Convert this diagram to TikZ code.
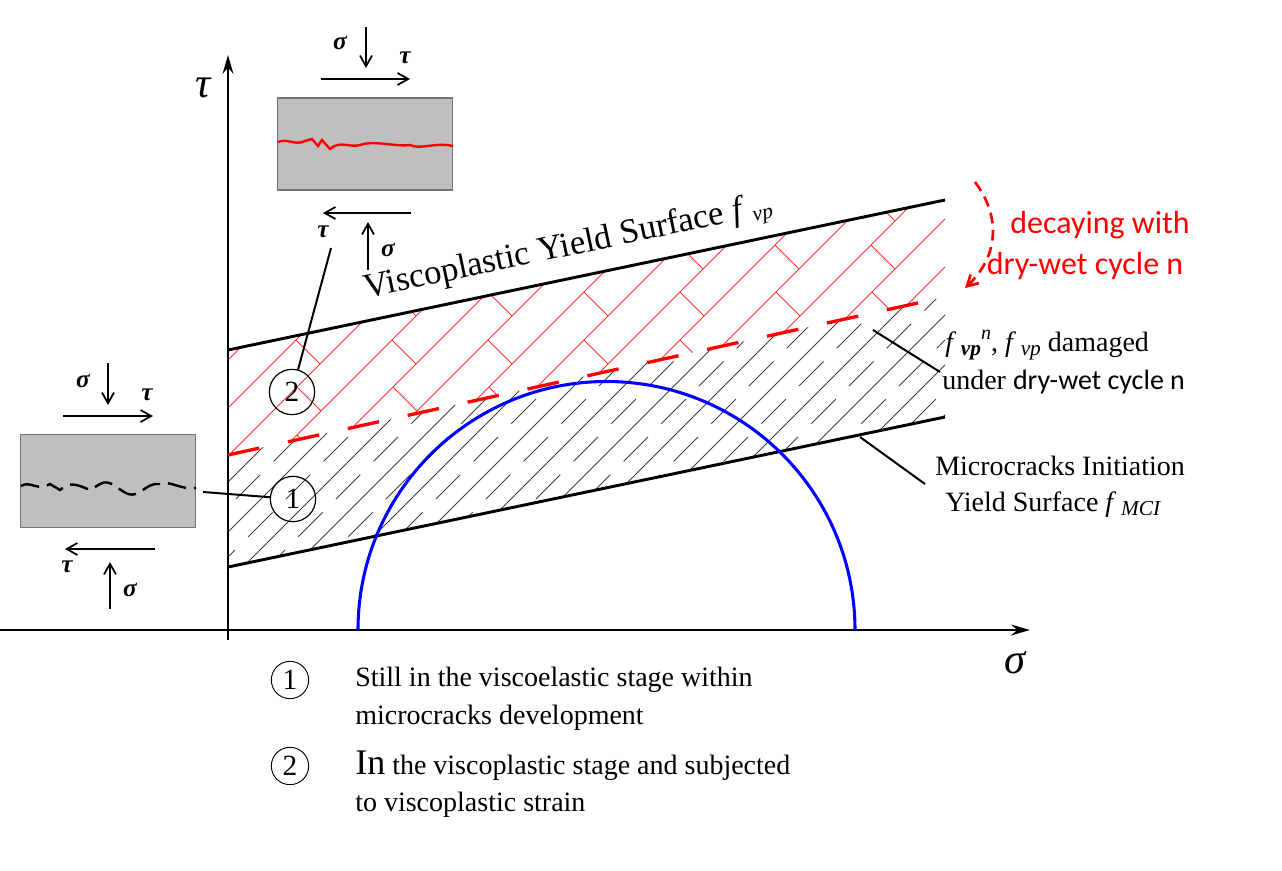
\documentclass[tikz,border=0pt]{standalone}
\usepackage{fontspec}
\setmainfont{Liberation Serif}
\newfontfamily\sansf{Carlito}
\usetikzlibrary{arrows.meta}
\newcommand{\fsub}[2]{\textit{#1}\,\raisebox{-3pt}{\fontsize{16}{16}\selectfont\itshape #2}}
\begin{document}
\begin{tikzpicture}[x=0.75pt,y=-0.75pt,
  ax/.style={line width=2.2pt,-{Stealth[length=14pt,width=8pt]}},
  yl/.style={line width=2.2pt},
  sm/.style={line width=1.3pt,-{Straight Barb[length=8pt,width=9pt]}},
  lead/.style={line width=1.5pt},
  circ/.style={draw,circle,line width=0.9pt,inner sep=1pt,minimum size=34,font=\fontsize{22}{24}\selectfont},
  gk/.style={font=\fontsize{19}{20}\selectfont\bfseries\itshape},
  box/.style={fill=black!25,draw=black!55,line width=1pt},
  lab/.style={font=\fontsize{21}{25}\selectfont,anchor=west,inner sep=0}]
\useasboundingbox (0,0) rectangle (1282,871);
% hatching
\begin{scope}
\clip (228,455) -- (945,297) -- (945,417) -- (228,567) -- cycle;
\foreach \i in {0,...,30}{
  \pgfmathsetmacro\c{660+25*\i}
  \ifodd\i \draw[black!75,line width=0.6pt,dash pattern=on 26pt off 14pt] (\c-650,650) -- (\c-150,150);
  \else \draw[black!75,line width=0.6pt] (\c-650,650) -- (\c-150,150); \fi}
\end{scope}
\begin{scope}
\clip (228,350) -- (945,200) -- (945,297) -- (228,455) -- cycle;
\foreach \i in {0,...,15}{
  \pgfmathsetmacro\c{540+48*\i}
  \draw[red!80,line width=0.6pt] (\c-650,650) -- (\c-150,150);
  \foreach \k in {0,...,6}{
    \pgfmathsetmacro\yk{150+95*\k+47*mod(\i,2)}
    \draw[red!80,line width=0.6pt] (\c-\yk,\yk) -- (\c-\yk+24,\yk+24);}}
\end{scope}
% axes
\coordinate (xs) at (0,630); \coordinate (xe) at (1030,630);
\coordinate (ys) at (228,640); \coordinate (ye) at (228,55);
\draw[ax] (xs) -- (xe);
\draw[ax] (ys) -- (ye);
\node[font=\fontsize{32}{32}\selectfont\itshape] (tau) at (203,88) {τ};
\node[font=\fontsize{32}{32}\selectfont\itshape] (sig) at (1015,663) {σ};
% yield lines
\coordinate (u1) at (228,350); \coordinate (u2) at (945,200);
\coordinate (l1) at (228,567); \coordinate (l2) at (945,417);
\coordinate (r1) at (228,455); \coordinate (r2) at (945,297);
\draw[yl] (u1) -- (u2);
\draw[yl] (l1) -- (l2);
\draw[red,line width=2.5pt,dash pattern=on 24pt off 22pt] (r1) -- (r2);
% Mohr circle
\draw[blue,line width=2.3pt] (358,630) arc[start angle=180,end angle=360,radius=248.5];
% labels
\node[font=\fontsize{26}{28}\selectfont,rotate=11.8] (vys) at (568,248) {Viscoplastic Yield Surface \fsub{f}{vp}};
\node[text=red,font=\sansf\fontsize{24}{26}\selectfont] (dec1) at (1100,225) {decaying with};
\node[text=red,font=\sansf\fontsize{24}{26}\selectfont] (dec2) at (1085,266) {dry-wet cycle n};
\draw[red,line width=2pt,dash pattern=on 8pt off 5pt,-{Straight Barb[length=8pt,width=9pt]}] (975,182) .. controls (1000,215) and (1000,255) .. (965,288);
\node[lab] (fn1) at (945,345) {\textit{f}\,\raisebox{-3pt}{\fontsize{16}{16}\selectfont\itshape\bfseries vp}\raisebox{9pt}{\fontsize{15}{15}\selectfont\itshape n}, \fsub{f}{vp} damaged};
\node[lab] (fn2) at (942,382) {under {\sansf dry-wet cycle n}};
\draw[lead] (873,330) -- (940,372);
\node[lab] (mc1) at (935,466) {Microcracks Initiation};
\node[lab] (mc2) at (945,505) {Yield Surface \fsub{f}{MCI}};
\draw[lead] (860,437) -- (925,484);
% circled markers
\node[circ] (c1) at (293,499) {1};
\node[circ] (c2) at (292,392) {2};
% left box
\node[box,minimum width=131pt,minimum height=70pt,inner sep=0] (bx1) at (108,481) {};
\draw[line width=1.8pt,dash pattern=on 14pt off 6pt] (21,486) .. controls (30,480) and (38,492) .. (50,484) -- (60,490) .. controls (70,480) and (80,486) .. (90,490) -- (100,484) .. controls (110,478) and (118,490) .. (128,494) .. controls (140,498) and (146,482) .. (160,484) .. controls (170,480) and (180,490) .. (196,488);
\draw[lead] (203,492) -- (c1);
\draw[sm] (108,363) -- (108,405);
\draw[sm] (63,416) -- (153,416);
\node[gk] (s1) at (83,381) {σ};
\node[gk] (t1) at (147,395) {τ};
\draw[sm] (155,549) -- (65,549);
\draw[sm] (110,609) -- (110,562);
\node[gk] (t2) at (67,567) {τ};
\node[gk] (s2) at (130,590) {σ};
% top box
\node[box,minimum width=131pt,minimum height=69pt,inner sep=0] (bx2) at (365,144) {};
\draw[red,line width=1.8pt] (278,142) .. controls (288,138) and (295,146) .. (305,141) -- (312,139) -- (318,146) -- (322,140) -- (330,149) .. controls (340,140) and (350,148) .. (360,145) .. controls (375,140) and (395,147) .. (410,145) .. controls (420,150) and (435,142) .. (453,146);
\draw[sm] (366,27) -- (366,68);
\draw[sm] (321,79) -- (410,79);
\node[gk] (s3) at (340,43) {σ};
\node[gk] (t3) at (405,58) {τ};
\draw[sm] (411,213) -- (323,213);
\draw[sm] (368,270) -- (368,222);
\node[gk] (t4) at (323,232) {τ};
\node[gk] (s4) at (388,250) {σ};
\draw[lead] (331,248) -- (c2);
% bottom legend
\node[circ,minimum size=28,line width=0.7pt] (k1) at (290,680) {1};
\node[lab] (lg1) at (355,680) {Still in the viscoelastic stage within};
\node[lab] (lg2) at (355,718) {microcracks development};
\node[circ,minimum size=28,line width=0.7pt] (k2) at (290,766) {2};
\node[lab] (lg3) at (355,766) {{\fontsize{27}{27}\selectfont In} the viscoplastic stage and subjected};
\node[lab] (lg4) at (355,805) {to viscoplastic strain};
\end{tikzpicture}
\end{document}
